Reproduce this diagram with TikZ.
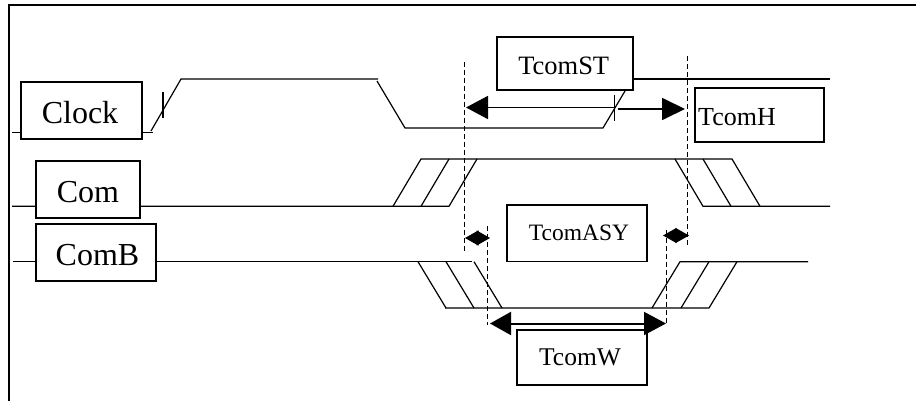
\documentclass[tikz,border=0pt]{standalone}
\usepackage{fontspec}
\setmainfont{Liberation Serif}
\usetikzlibrary{arrows.meta}
\newcommand{\Lbl}[4]{\fontsize{#1}{#1}\selectfont\raisebox{#3pt}[0pt][0pt]{\makebox[0pt]{\kern#2pt #4}}}
\tikzset{
  box/.style={draw=black,line width=1.6pt,fill=white,inner sep=0pt,outer sep=0pt},
  sig/.style={draw=black,line width=1.2pt},
  guide/.style={draw=black,line width=1pt,dash pattern=on 5pt off 3pt},
  tick/.style={draw=black,line width=1.2pt},
  bigarrow/.style={draw=black,line width=2pt,{Triangle[length=21pt,width=23pt]}-{Triangle[length=22pt,width=23pt]}},
  rightarrow/.style={draw=black,line width=1.8pt,-{Triangle[length=23pt,width=22pt]}},
  leftarrow/.style={draw=black,line width=1.8pt,{Triangle[length=22pt,width=23pt]}-},
  diam/.style={draw=black,line width=1pt,{Triangle[length=13.5pt,width=15pt]}-{Triangle[length=13.5pt,width=15pt]}},
  frameline/.style={draw=black,line width=2pt}
}
\begin{document}
\begin{tikzpicture}[x=1pt,y=-1pt]
\useasboundingbox (0,0) rectangle (916,401);
\fill[white] (0,0) rectangle (916,401);
\draw[frameline] (9,401) -- (9,5.5) -- (916,5.5);

% guides
\coordinate (g1a) at (464,62); \coordinate (g1b) at (464,253);
\coordinate (g2a) at (687.5,56); \coordinate (g2b) at (687.5,247);
\coordinate (g3a) at (487.7,226); \coordinate (g3b) at (487.7,325);
\coordinate (g4a) at (666,230); \coordinate (g4b) at (666,325);

% Clock signal
\draw[sig] (12,132.5) -- (21,132.5);
\draw[sig] (142,132.5) -- (153,132.5);
\draw[sig] (151,131) -- (181,79) -- (378,79);
\draw[sig] (377,81) -- (405,128) -- (603,128) -- (625,91);
\draw[sig] (633,79) -- (830,79);
\draw[tick] (163,92) -- (163,118);
\draw[tick] (614.7,95) -- (614.7,121);

% Com signal
\draw[sig] (12,206.3) -- (449,206.3) -- (477,159);
\draw[sig] (393,206.3) -- (421,159) -- (732,159) -- (760,206.3);
\draw[sig] (421,206.3) -- (449,159);
\draw[sig] (675,159) -- (703,206.3) -- (830,206.3);
\draw[sig] (703,159) -- (731,206.3);

% ComB signal
\draw[sig] (13,261.7) -- (472,261.7);
\draw[sig] (418,261.7) -- (446,308);
\draw[sig] (446,261.7) -- (474,308);
\draw[sig] (474,261.7) -- (502,308);
\draw[sig] (445,308) -- (709,308) -- (737,261.7);
\draw[sig] (652,308) -- (680,261.7) -- (808,261.7);
\draw[sig] (681,308) -- (709,261.7);

% guides on top of the signals
\draw[guide] (g1a) -- (g1b);
\draw[guide] (g2a) -- (g2b);
\draw[guide] (g3a) -- (g3b);
\draw[guide] (g4a) -- (g4b);

% boxes
\node[box,minimum width=121pt,minimum height=57pt] (clock) at (81.5,110.5) {\Lbl{32}{-3}{-13}{Clock}};
\node[box,minimum width=104pt,minimum height=57pt] (com) at (88,189.5) {\Lbl{32}{0}{-13}{Com}};
\node[box,minimum width=120pt,minimum height=57pt] (comb) at (96,252.5) {\Lbl{32}{3}{-12.5}{ComB}};
\node[box,minimum width=136pt,minimum height=53pt] (tcomst) at (565,63.5) {\Lbl{26.5}{-2.6}{-11.5}{TcomST}};
\node[box,minimum width=129pt,minimum height=54pt] (tcomh) at (759.5,115) {\Lbl{26}{-45}{-11}{TcomH}};
\node[box,minimum width=140pt,minimum height=56.5pt] (tcomasy) at (577,233.2) {\Lbl{23.5}{4}{-6.8}{TcomASY}};
\node[box,minimum width=130pt,minimum height=55pt] (tcomw) at (582,357.5) {\Lbl{25.5}{-4}{-8.2}{TcomW}};

% arrows
\coordinate (stL) at (466,107.5);
\coordinate (stR) at (614.7,107.5);
\coordinate (hL) at (618,109);
\coordinate (hR) at (685,109);
\draw[leftarrow] (stL) -- (stR);
\draw[rightarrow] (hL) -- (hR);
\coordinate (dlL) at (465,238); \coordinate (dlR) at (490,238);
\coordinate (drL) at (663,235.5); \coordinate (drR) at (689,235.5);
\draw[diam] (dlL) -- (dlR);
\draw[diam] (drL) -- (drR);
\coordinate (wL) at (490,323.5); \coordinate (wR) at (666,323.5);
\draw[bigarrow] (wL) -- (wR);
\end{tikzpicture}
\end{document}
